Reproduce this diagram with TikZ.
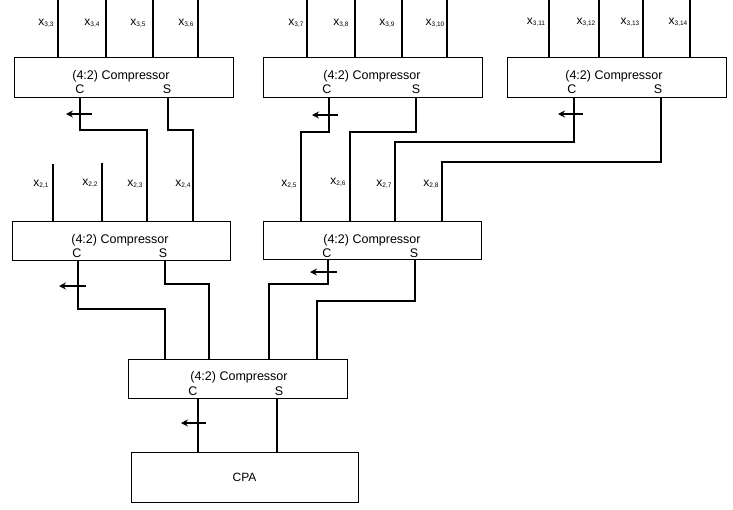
\documentclass[tikz,border=0pt]{standalone}
\usepackage{fontspec}
\setmainfont{Liberation Sans}
\usetikzlibrary{arrows.meta}
\newcommand{\xlab}[1]{{\fontsize{12}{12}\selectfont x}\raisebox{-0.8pt}{\fontsize{6.5}{7}\selectfont #1}}
\tikzset{
  comp/.style={draw, line width=0.8pt, minimum width=219pt, minimum height=40pt, inner sep=0pt},
  ttl/.style={font=\fontsize{12.5}{14}\selectfont, inner sep=0pt},
  port/.style={font=\fontsize{12.5}{14}\selectfont, inner sep=0pt},
  wire/.style={line width=1.6pt},
  carry/.style={line width=1.6pt, -{Stealth[length=7pt,width=7pt,inset=2.5pt]}},
  lab/.style={inner sep=0pt}
}
\begin{document}
\begin{tikzpicture}[x=1pt,y=-1pt]
\useasboundingbox (0,0) rectangle (733,509);
% boxes
\node[comp] (B1) at (123.5,77) {};
\node[comp] (B2) at (372.5,77) {};
\node[comp] (B3) at (616.5,77) {};
\node[comp, minimum width=218pt, minimum height=39pt] (BL) at (121,240.5) {};
\node[comp, minimum width=218pt, minimum height=38pt] (BR) at (372,240) {};
\node[comp, minimum width=219pt, minimum height=39pt] (BB) at (238,378.5) {};
\node[comp, minimum width=227pt, minimum height=50pt, font=\fontsize{12}{14}\selectfont] (CPA) at (244.5,477) {CPA};
% titles
\node[ttl] (T1) at (121,76) {(4:2) Compressor};
\node[ttl] (T2) at (372,76) {(4:2) Compressor};
\node[ttl] (T3) at (614,76) {(4:2) Compressor};
\node[ttl] (TL) at (120,240) {(4:2) Compressor};
\node[ttl] (TR) at (372,240) {(4:2) Compressor};
\node[ttl] (TB) at (239,377) {(4:2) Compressor};
% port labels
\node[port] (C1) at (80,89) {C};   \node[port] (S1) at (167,89) {S};
\node[port] (C2) at (327,89) {C};  \node[port] (S2) at (416,89) {S};
\node[port] (C3) at (572,89) {C};  \node[port] (S3) at (658,89) {S};
\node[port] (CL) at (77,253) {C};  \node[port] (SL) at (163,253) {S};
\node[port] (CR) at (327,253) {C}; \node[port] (SR) at (414,253) {S};
\node[port] (CB) at (193,391) {C}; \node[port] (SB) at (279,391) {S};
% input labels row 3
\node[lab] (x33) at (46,23) {\xlab{3,3}};
\node[lab] (x34) at (92,23) {\xlab{3,4}};
\node[lab] (x35) at (138,23) {\xlab{3,5}};
\node[lab] (x36) at (186,23) {\xlab{3,6}};
\node[lab] (x37) at (296,23) {\xlab{3,7}};
\node[lab] (x38) at (341,23) {\xlab{3,8}};
\node[lab] (x39) at (387,23) {\xlab{3,9}};
\node[lab] (x310) at (435,23) {\xlab{3,10}};
\node[lab] (x311) at (536,22) {\xlab{3,11}};
\node[lab] (x312) at (586,22) {\xlab{3,12}};
\node[lab] (x313) at (630,22) {\xlab{3,13}};
\node[lab] (x314) at (678,22) {\xlab{3,14}};
% input labels row 2
\node[lab] (x21) at (41,184) {\xlab{2,1}};
\node[lab] (x22) at (90,183) {\xlab{2,2}};
\node[lab] (x23) at (135,184) {\xlab{2,3}};
\node[lab] (x24) at (183,184) {\xlab{2,4}};
\node[lab] (x25) at (289,184) {\xlab{2,5}};
\node[lab] (x26) at (338,182) {\xlab{2,6}};
\node[lab] (x27) at (384,184) {\xlab{2,7}};
\node[lab] (x28) at (431,184) {\xlab{2,8}};
% free input ends
\foreach \n/\x in {a/58,b/106,c/153,d/198,e/307,f/355,g/402,h/447,i/549,j/599,k/643,l/690}
  \coordinate (in\n) at (\x,0);
\coordinate (in21) at (53,164);
\coordinate (in22) at (102,163);
% input wires
\foreach \n in {a,b,c,d}{\draw[wire] (in\n) -- (in\n |- B1.north);}
\foreach \n in {e,f,g,h}{\draw[wire] (in\n) -- (in\n |- B2.north);}
\foreach \n in {i,j,k,l}{\draw[wire] (in\n) -- (in\n |- B3.north);}
\draw[wire] (in21) -- (in21 |- BL.north);
\draw[wire] (in22) -- (in22 |- BL.north);
% connectors between compressors
\draw[wire] (80,97) -- (80,130) -- (147,130) -- (147,221);
\draw[wire] (168,97) -- (168,130) -- (193,130) -- (193,221);
\draw[wire] (329,97) -- (329,132) -- (301,132) -- (301,221);
\draw[wire] (416,97) -- (416,132) -- (350,132) -- (350,221);
\draw[wire] (574,97) -- (574,142) -- (395,142) -- (395,221);
\draw[wire] (661,97) -- (661,162) -- (442,162) -- (442,221);
\draw[wire] (78,260) -- (78,309) -- (165,309) -- (165,359);
\draw[wire] (165,260) -- (165,284) -- (209,284) -- (209,359);
\draw[wire] (328,259) -- (328,284) -- (269,284) -- (269,359);
\draw[wire] (415,259) -- (415,301) -- (317,301) -- (317,359);
\draw[wire] (198,398) -- (198,452);
\draw[wire] (277,398) -- (277,452);
% carry-out arrows
\draw[carry] (92,114) -- (66,114);
\draw[carry] (338,115) -- (312,115);
\draw[carry] (583,114) -- (558,114);
\draw[carry] (86,286) -- (59,286);
\draw[carry] (337,272) -- (310,272);
\draw[carry] (206,423) -- (181,423);
\end{tikzpicture}
\end{document}
